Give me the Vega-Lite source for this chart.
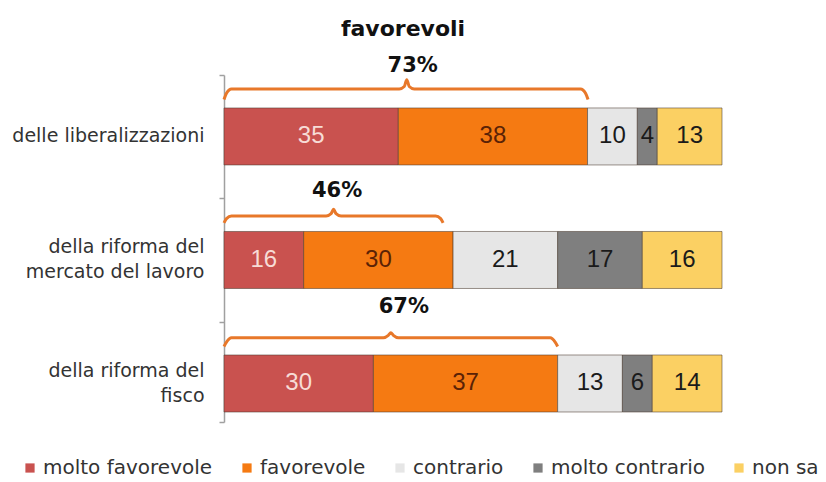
{
  "$schema": "https://vega.github.io/schema/vega-lite/v6.json",
  "width": 498,
  "height": 347,
  "autosize": {"type": "none"},
  "padding": {"left": 224, "top": 75, "right": 104, "bottom": 60},
  "background": "white",
  "title": {"text": "favorevoli", "fontSize": 22, "fontWeight": "bold", "font": "DejaVu Sans", "color": "#111111", "anchor": "middle", "frame": "group", "dx": -70, "offset": -3, "baseline": "alphabetic"},
  "config": {"view": {"stroke": null}, "font": "DejaVu Sans"},
  "datasets": {
    "bars": [
      {"q": "delle liberalizzazioni", "cat": "molto favorevole", "k": 1, "val": 35},
      {"q": "delle liberalizzazioni", "cat": "favorevole", "k": 2, "val": 38},
      {"q": "delle liberalizzazioni", "cat": "contrario", "k": 3, "val": 10},
      {"q": "delle liberalizzazioni", "cat": "molto contrario", "k": 4, "val": 4},
      {"q": "delle liberalizzazioni", "cat": "non sa", "k": 5, "val": 13},
      {"q": "della riforma del|mercato del lavoro", "cat": "molto favorevole", "k": 1, "val": 16},
      {"q": "della riforma del|mercato del lavoro", "cat": "favorevole", "k": 2, "val": 30},
      {"q": "della riforma del|mercato del lavoro", "cat": "contrario", "k": 3, "val": 21},
      {"q": "della riforma del|mercato del lavoro", "cat": "molto contrario", "k": 4, "val": 17},
      {"q": "della riforma del|mercato del lavoro", "cat": "non sa", "k": 5, "val": 16},
      {"q": "della riforma del|fisco", "cat": "molto favorevole", "k": 1, "val": 30},
      {"q": "della riforma del|fisco", "cat": "favorevole", "k": 2, "val": 37},
      {"q": "della riforma del|fisco", "cat": "contrario", "k": 3, "val": 13},
      {"q": "della riforma del|fisco", "cat": "molto contrario", "k": 4, "val": 6},
      {"q": "della riforma del|fisco", "cat": "non sa", "k": 5, "val": 14}
    ],
    "braces": [
      {"q": "a", "bx": 0, "by": -0.30}, {"q": "a", "bx": 0.5, "by": -0.35}, {"q": "a", "bx": 1.5, "by": -0.385},
      {"q": "a", "bx": 35.2, "by": -0.385}, {"q": "a", "bx": 36.2, "by": -0.405}, {"q": "a", "bx": 36.7, "by": -0.46},
      {"q": "a", "bx": 37.2, "by": -0.405}, {"q": "a", "bx": 38.2, "by": -0.385}, {"q": "a", "bx": 71.6, "by": -0.385},
      {"q": "a", "bx": 72.6, "by": -0.35}, {"q": "a", "bx": 73.1, "by": -0.30},
      {"q": "b", "bx": 0, "by": 0.70}, {"q": "b", "bx": 0.5, "by": 0.665}, {"q": "b", "bx": 1.5, "by": 0.644},
      {"q": "b", "bx": 20.5, "by": 0.644}, {"q": "b", "bx": 21.5, "by": 0.625}, {"q": "b", "bx": 22, "by": 0.59},
      {"q": "b", "bx": 22.5, "by": 0.625}, {"q": "b", "bx": 23.5, "by": 0.644}, {"q": "b", "bx": 42.5, "by": 0.644},
      {"q": "b", "bx": 43.5, "by": 0.665}, {"q": "b", "bx": 44, "by": 0.70},
      {"q": "c", "bx": 0, "by": 1.70}, {"q": "c", "bx": 0.5, "by": 1.665}, {"q": "c", "bx": 1.5, "by": 1.63},
      {"q": "c", "bx": 32, "by": 1.63}, {"q": "c", "bx": 33, "by": 1.61}, {"q": "c", "bx": 33.5, "by": 1.59},
      {"q": "c", "bx": 34, "by": 1.61}, {"q": "c", "bx": 35, "by": 1.63}, {"q": "c", "bx": 65.5, "by": 1.63},
      {"q": "c", "bx": 66.5, "by": 1.665}, {"q": "c", "bx": 67, "by": 1.70}
    ],
    "totals": [
      {"label": "73%", "tx": 37.9, "ty": -0.571},
      {"label": "46%", "tx": 22.7, "ty": 0.44},
      {"label": "67%", "tx": 36.1, "ty": 1.38}
    ]
  },
  "layer": [
    {
      "data": {"name": "bars"},
      "transform": [
        {"stack": "val", "groupby": ["q"], "sort": [{"field": "k"}], "as": ["x0", "x1"]},
        {"calculate": "(datum.x0 + datum.x1) / 2", "as": "mid"}
      ],
      "encoding": {
        "y": {
          "field": "q", "type": "nominal", "sort": null,
          "scale": {"paddingInner": 0.5385, "paddingOuter": 0.174, "align": 0.767},
          "axis": {
            "title": null, "domain": true, "domainColor": "#a0a0a0", "domainWidth": 1.5,
            "ticks": false, "offset": 0,
            "labelFont": "DejaVu Sans", "labelFontSize": 19, "labelColor": "#333333",
            "labelPadding": 20, "labelLineHeight": 25, "labelLimit": 300,
            "labelExpr": "split(datum.label, '|')",
            "labelOffset": {"condition": {"test": "indexof(datum.value, '|') >= 0", "value": -12.5}, "value": 0}
          }
        }
      },
      "layer": [
        {
          "mark": {"type": "bar", "stroke": "#4a3a30", "strokeWidth": 1, "strokeOpacity": 0.55},
          "encoding": {
            "x": {"field": "x0", "type": "quantitative", "scale": {"domain": [0, 100], "nice": false}, "axis": null},
            "x2": {"field": "x1"},
            "color": {
              "field": "cat", "type": "nominal",
              "scale": {
                "domain": ["molto favorevole", "favorevole", "contrario", "molto contrario", "non sa"],
                "range": ["#c9524f", "#f57a12", "#e6e6e6", "#7f7f7f", "#fbd063"]
              },
              "legend": {
                "orient": "none", "legendX": -204, "legendY": 383, "direction": "horizontal",
                "title": null, "symbolType": "square", "symbolSize": 85, "symbolStrokeWidth": 0,
                "labelFont": "DejaVu Sans", "labelFontSize": 20, "labelColor": "#333333",
                "labelLimit": 300, "columnPadding": 24, "labelOffset": 3, "padding": 0
              }
            }
          }
        },
        {
          "mark": {"type": "text", "font": "Liberation Sans", "fontSize": 24, "baseline": "middle", "align": "center"},
          "encoding": {
            "x": {"field": "mid", "type": "quantitative", "axis": null},
            "text": {"field": "val", "type": "quantitative"},
            "color": {
              "condition": [
                {"test": "datum.cat === 'molto favorevole'", "value": "#f7dcd6"},
                {"test": "datum.cat === 'favorevole'", "value": "#5a2206"}
              ],
              "value": "#1a1a1a"
            }
          }
        }
      ]
    },
    {
      "layer": [
        {
          "data": {"name": "braces"},
          "mark": {"type": "line", "interpolate": "monotone", "stroke": "#e8782a", "strokeWidth": 3},
          "encoding": {
            "x": {"field": "bx", "type": "quantitative", "axis": null},
            "y": {
              "field": "by", "type": "quantitative",
              "scale": {"domain": [-0.498, 2.312], "reverse": true, "nice": false, "zero": false},
              "axis": {"orient": "left", "offset": 0, "values": [-0.498, 0.5, 1.5, 2.312], "labels": false, "domain": false, "grid": false, "ticks": true, "tickSize": 5, "tickWidth": 1.5, "tickColor": "#a0a0a0", "title": null}
            },
            "detail": {"field": "q"}
          }
        },
        {
          "data": {"name": "totals"},
          "mark": {"type": "text", "font": "DejaVu Sans", "fontSize": 21, "fontWeight": "bold", "color": "#111111", "baseline": "middle", "align": "center"},
          "encoding": {
            "x": {"field": "tx", "type": "quantitative", "axis": null},
            "y": {"field": "ty", "type": "quantitative", "scale": {"domain": [-0.498, 2.312], "reverse": true, "nice": false, "zero": false}},
            "text": {"field": "label"}
          }
        }
      ]
    }
  ],
  "resolve": {"scale": {"y": "independent"}}
}
